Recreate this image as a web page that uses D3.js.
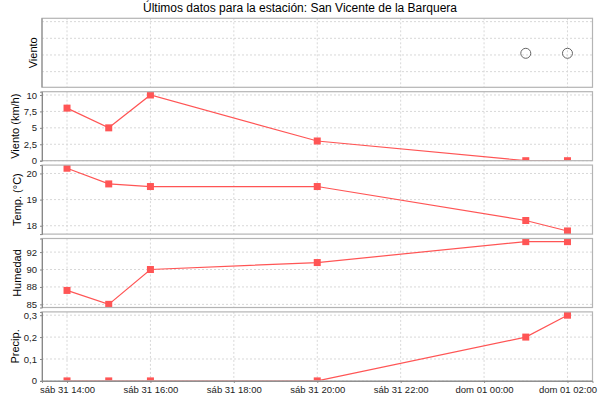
<!DOCTYPE html>
<html><head><meta charset="utf-8">
<script src="https://cdn.jsdelivr.net/npm/d3@7"></script>
<style>body{margin:0;background:#fff}svg{display:block}</style>
</head><body>
<svg id="c" width="600" height="400"></svg>
<script>
const title = "Últimos datos para la estación: San Vicente de la Barquera";
const times = ["2011-12-31T14:00","2011-12-31T15:00","2011-12-31T16:00","2011-12-31T20:00","2012-01-01T01:00","2012-01-01T02:00"];
const windDir = [null,null,null,null,1.1,1.1];
const windSpeed = [8,5,10,3,0,0];
const temp = [20.2,19.6,19.5,19.5,18.2,17.8];
const humidity = [87,85,90,91,94,94];
const precip = [0,0,0,0,0.2,0.3];

const xTicks = ["2011-12-31T14:00","2011-12-31T16:00","2011-12-31T18:00","2011-12-31T20:00","2011-12-31T22:00","2012-01-01T00:00","2012-01-01T02:00"];
const xTickLabels = ["sáb 31 14:00","sáb 31 16:00","sáb 31 18:00","sáb 31 20:00","sáb 31 22:00","dom 01 00:00","dom 01 02:00"];
const xDomain = ["2011-12-31T13:24","2012-01-01T02:36"];

const windDirTicks = [0,1,2,3];
const windSpeedTicks = [0,2.5,5,7.5,10];
const windSpeedTickLabels = ["0","2,5","5","7,5","10"];
const tempTicks = [18,19,20];
const tempTickLabels = ["18","19","20"];
const humTicks = [85,87.5,90,92.5];
const humTickLabels = ["85","88","90","92"];
const precipTicks = [0,0.1,0.2,0.3];
const precipTickLabels = ["0","0,1","0,2","0,3"];

const parse = d3.timeParse("%Y-%m-%dT%H:%M");
const T = times.map(parse);

const panels = [
  {label:"Viento", values:windDir, domain:[-0.94,3.2], ticks:windDirTicks, tickLabels:null, kind:"circle"},
  {label:"Viento (km/h)", values:windSpeed, domain:[0,10.5], ticks:windSpeedTicks, tickLabels:windSpeedTickLabels},
  {label:"Temp. (°C)", values:temp, domain:[17.68,20.32], ticks:tempTicks, tickLabels:tempTickLabels},
  {label:"Humedad", values:humidity, domain:[84.55,94.45], ticks:humTicks, tickLabels:humTickLabels},
  {label:"Precip.", values:precip, domain:[0,0.315], ticks:precipTicks, tickLabels:precipTickLabels}
];

const svg = d3.select("#c");
const L = 42, R = 592.5, top0 = 18.3, step = 73.4, ph = 69;
const font = "'Liberation Sans', Arial, sans-serif";
const red = "#ff5555";

const x = d3.scaleTime().domain(xDomain.map(parse)).range([L, R]);

svg.append("text").attr("x", 300).attr("y", 12).attr("text-anchor","middle")
  .attr("font-family", font).attr("font-size", 12).attr("fill","#000").text(title);

const defs = svg.append("defs");

panels.forEach((p, i) => {
  const y0 = top0 + i*step, y1 = y0 + ph;
  const y = d3.scaleLinear().domain(p.domain).range([y1, y0]);
  const g = svg.append("g");
  defs.append("clipPath").attr("id","clip"+i).append("rect")
    .attr("x", L).attr("y", y0).attr("width", R-L).attr("height", ph);
  // grid
  g.selectAll(".vg").data(xTicks.map(parse)).join("line")
    .attr("x1", d=>x(d)).attr("x2", d=>x(d)).attr("y1", y0).attr("y2", y1)
    .attr("stroke","#d8d8d8").attr("stroke-dasharray","2,2").attr("stroke-width",1);
  g.selectAll(".hg").data(p.ticks).join("line")
    .attr("x1", L).attr("x2", R).attr("y1", d=>y(d)).attr("y2", d=>y(d))
    .attr("stroke","#d8d8d8").attr("stroke-dasharray","2,2").attr("stroke-width",1);
  // data
  const dg = g.append("g").attr("clip-path", `url(#clip${i})`);
  const pts = T.map((t,k)=>({t, v:p.values[k]})).filter(d=>d.v!==null);
  if (p.kind === "circle") {
    dg.selectAll(".c").data(pts).join("circle")
      .attr("cx", d=>x(d.t)).attr("cy", d=>y(d.v)).attr("r", 5)
      .attr("fill","none").attr("stroke","#666").attr("stroke-width",1);
  } else {
    dg.append("path").datum(pts)
      .attr("d", d3.line().x(d=>x(d.t)).y(d=>y(d.v)))
      .attr("fill","none").attr("stroke", red).attr("stroke-width",1.2);
    dg.selectAll(".m").data(pts).join("rect")
      .attr("x", d=>x(d.t)-3.5).attr("y", d=>y(d.v)-3.5).attr("width",7).attr("height",7)
      .attr("fill", red);
  }
  // outline
  g.append("rect").attr("x", L).attr("y", y0).attr("width", R-L).attr("height", ph)
    .attr("fill","none").attr("stroke","#b4b4b4").attr("stroke-width",1.2);
  // y axis
  let maxW = 0;
  if (p.tickLabels) {
    const ax = d3.axisLeft(y).tickValues(p.ticks).tickSize(2).tickPadding(3)
      .tickFormat((d,k)=>p.tickLabels[k]);
    const ag = g.append("g").attr("transform",`translate(${L},0)`).call(ax);
    ag.select(".domain").attr("stroke","#888");
    ag.selectAll(".tick line").attr("stroke","#888");
    ag.selectAll("text").attr("font-family", font).attr("font-size", 9.5).attr("fill","#222");
    ag.selectAll("text").each(function(){ maxW = Math.max(maxW, this.getBBox().width); });
  } else {
    g.append("line").attr("x1",L).attr("x2",L).attr("y1",y0).attr("y2",y1).attr("stroke","#888");
  }
  const lx = p.tickLabels ? L - 5 - maxW - 5 : L - 5.5;
  g.append("text").attr("transform",`translate(${lx},${(y0+y1)/2}) rotate(-90)`)
    .attr("text-anchor","middle").attr("font-family", font).attr("font-size", 11)
    .attr("fill","#000").text(p.label);
  if (i === panels.length-1) {
    const xa = d3.axisBottom(x).tickValues(xTicks.map(parse)).tickSize(2).tickPadding(3)
      .tickFormat((d,k)=>xTickLabels[k]);
    const xg = g.append("g").attr("transform",`translate(0,${y1})`).call(xa);
    xg.select(".domain").attr("stroke","#888");
    xg.selectAll(".tick line").attr("stroke","#888");
    xg.selectAll("text").attr("font-family", font).attr("font-size", 9.5).attr("fill","#222");
  }
});
</script>
</body></html>
